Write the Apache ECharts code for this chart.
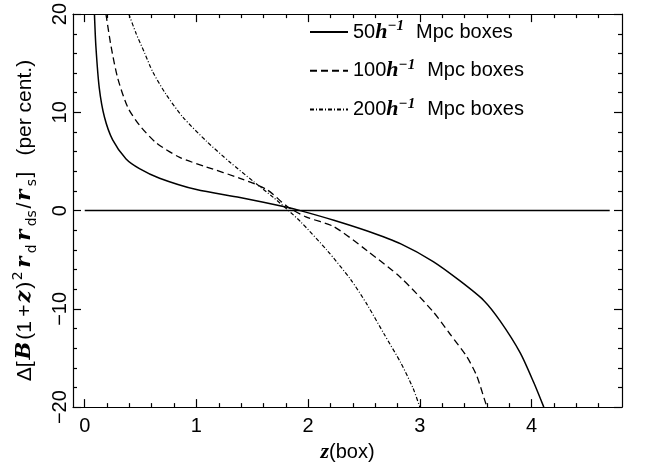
<!DOCTYPE html>
<html><head><meta charset="utf-8">
<script src="https://cdn.jsdelivr.net/npm/echarts@6/dist/echarts.min.js"></script>
<style>html,body{margin:0;padding:0;background:#fff}#c{width:648px;height:468px}</style>
</head><body><div id="c"></div>
<script>
// ---- data ----
const xMajorTicks = [0, 1, 2, 3, 4];
const xMinorTicks = [0.2, 0.4, 0.6, 0.8, 1.2, 1.4, 1.6, 1.8, 2.2, 2.4, 2.6, 2.8, 3.2, 3.4, 3.6, 3.8, 4.2, 4.4, 4.6];
const xRange = [-0.105, 4.81];
const yRange = [-20, 20];
const boxNames = ['50', '100', '200'];
const s50 = [[0.087,20],[0.10,16.7],[0.13,12.5],[0.177,9.5],[0.25,7.2],[0.37,5.26],[0.49,4.28],[0.67,3.3],[1.0,2.14],[1.39,1.33],[1.81,0.34],[1.93,0.0],[2.23,-0.98],[2.53,-2.08],[2.83,-3.39],[3.12,-5.19],[3.36,-7.16],[3.57,-9.12],[3.72,-11.25],[3.90,-14.5],[4.02,-17.5],[4.11,-20]];
const s100 = [[0.19,20],[0.236,16.7],[0.296,13.45],[0.386,10.5],[0.49,8.7],[0.64,6.9],[0.85,5.42],[1.09,4.44],[1.39,3.29],[1.63,2.14],[1.81,0.45],[1.98,-0.64],[2.23,-1.63],[2.53,-4.1],[2.83,-6.83],[3.12,-10.3],[3.27,-12.56],[3.42,-14.86],[3.51,-16.83],[3.59,-19.6],[3.61,-20]];
const s200 = [[0.395,20],[0.46,18.03],[0.535,16.07],[0.61,14.1],[0.73,11.8],[0.88,9.5],[1.09,7.06],[1.30,4.93],[1.51,2.97],[1.69,1.33],[1.81,0.15],[1.93,-1.1],[2.17,-4.05],[2.38,-7.0],[2.53,-9.6],[2.68,-12.56],[2.83,-15.5],[2.94,-18.1],[3.0,-20]];
const zeroLine = [[0,0],[4.7,0]];

// ---- chart ----
const SANS = 'Liberation Sans';
const SERIF = 'Liberation Serif';
const FS = 20;
const LH = 26;
const mathRich = {
  n: {fontFamily: SANS, fontSize: FS, color: '#000', lineHeight: LH},
  i: {fontFamily: SERIF, fontStyle: 'italic', fontWeight: 'bold', fontSize: FS + 2, color: '#000', lineHeight: LH},
  supi: {fontFamily: SERIF, fontStyle: 'italic', fontWeight: 'bold', fontSize: 15, color: '#000', lineHeight: LH, verticalAlign: 'top'},
  sp: {fontFamily: SANS, fontSize: FS, lineHeight: LH, width: 12}
};
const xNameRich = {
  n: {fontFamily: SANS, fontSize: FS, color: '#000', lineHeight: 20},
  i: {fontFamily: SERIF, fontStyle: 'italic', fontWeight: 'bold', fontSize: FS + 2, color: '#000', lineHeight: 20}
};
const yNameRich = {
  n: {fontFamily: SANS, fontSize: 21, color: '#000', lineHeight: 28},
  i: {fontFamily: 'DejaVu Serif', fontStyle: 'italic', fontWeight: 'bold', fontSize: 21, color: '#000', lineHeight: 28, padding: [0, 2]},
  sup: {fontFamily: 'DejaVu Sans', fontSize: 14, color: '#000', lineHeight: 28, verticalAlign: 'top', padding: [0, 1.5]},
  sub: {fontFamily: 'DejaVu Sans', fontSize: 14, color: '#000', lineHeight: 28, verticalAlign: 'bottom', padding: [0, 1.5]},
  sp: {fontFamily: SANS, fontSize: 21, lineHeight: 28, width: 16}
};
const axBase = {type: 'value', min: xRange[0], max: xRange[1], splitLine: {show: false}};
const lineBlack = {color: '#000', width: 1.2};

const chart = echarts.init(document.getElementById('c'), null, {renderer: 'canvas'});
chart.setOption({
  animation: false,
  backgroundColor: '#fff',
  grid: {left: 73, right: 26, top: 12, bottom: 49},
  legend: {
    data: boxNames,
    orient: 'vertical',
    left: 309, top: 19,
    padding: 0,
    itemWidth: 38, itemHeight: 14, itemGap: 14.7,
    itemStyle: {opacity: 0},
    formatter: n => `{n|${n}}{i|h}{supi|\u2212}{supi|1}{sp|}{n|Mpc boxes}`,
    textStyle: {rich: mathRich},
    selectedMode: false
  },
  xAxis: [
    Object.assign({}, axBase, {
      position: 'bottom',
      axisLine: {show: true, onZero: false, lineStyle: lineBlack},
      axisTick: {show: true, inside: true, length: 8, customValues: xMajorTicks, lineStyle: lineBlack},
      axisLabel: {show: true, customValues: xMajorTicks, fontFamily: SANS, fontSize: FS, color: '#000', margin: 9},
      name: '{i|z}{n|(box)}', nameLocation: 'middle', nameGap: 31,
      nameTextStyle: {rich: xNameRich}
    }),
    Object.assign({}, axBase, {
      position: 'bottom',
      axisLine: {show: false, onZero: false},
      axisTick: {show: true, inside: true, length: 4, customValues: xMinorTicks, lineStyle: lineBlack},
      axisLabel: {show: false}
    }),
    Object.assign({}, axBase, {
      position: 'top',
      axisLine: {show: true, onZero: false, lineStyle: lineBlack},
      axisTick: {show: true, inside: true, length: 8, customValues: xMajorTicks, lineStyle: lineBlack},
      axisLabel: {show: false}
    }),
    Object.assign({}, axBase, {
      position: 'top',
      axisLine: {show: false, onZero: false},
      axisTick: {show: true, inside: true, length: 4, customValues: xMinorTicks, lineStyle: lineBlack},
      axisLabel: {show: false}
    })
  ],
  yAxis: [
    {
      type: 'value', min: yRange[0], max: yRange[1], interval: 10, position: 'left',
      splitLine: {show: false},
      axisLine: {show: true, onZero: false, lineStyle: lineBlack},
      axisTick: {show: true, inside: true, length: 8, lineStyle: lineBlack},
      minorTick: {show: true, splitNumber: 5, length: 4, lineStyle: lineBlack},
      axisLabel: {show: true, rotate: 90, fontFamily: SANS, fontSize: FS, color: '#000', margin: 3,
        formatter: v => (v < 0 ? '\u2212' + (-v) : '' + v)},
      name: '{n|Δ[}{i|B}{n|(1\u2009+}{i|z}{n|)}{sup|2}{i|r}{sub|d}{i|r}{sub|ds}{n|/}{i|r}{sub|s}{n|]}{sp|}{n|(per cent.)}',
      nameLocation: 'middle', nameRotate: 90, nameGap: 34,
      nameTextStyle: {rich: yNameRich, padding: [0, 20, 0, 0]}
    },
    {
      type: 'value', min: yRange[0], max: yRange[1], interval: 10, position: 'right',
      splitLine: {show: false},
      axisLine: {show: true, onZero: false, lineStyle: lineBlack},
      axisTick: {show: true, inside: true, length: 8, lineStyle: lineBlack},
      minorTick: {show: true, splitNumber: 5, length: 4, lineStyle: lineBlack},
      axisLabel: {show: false}
    }
  ],
  series: [
    {name: boxNames[0], type: 'line', data: s50, symbol: 'none', smooth: 0.25, clip: true,
      lineStyle: {color: '#000', width: 1.5, type: 'solid'}, itemStyle: {color: '#000'}},
    {name: boxNames[1], type: 'line', data: s100, symbol: 'none', smooth: 0.25, clip: true,
      lineStyle: {color: '#000', width: 1.3, type: [7, 4]}, itemStyle: {color: '#000'}},
    {name: boxNames[2], type: 'line', data: s200, symbol: 'none', smooth: 0.25, clip: true,
      lineStyle: {color: '#000', width: 1.2, type: [4, 2, 1, 2]}, itemStyle: {color: '#000'}},
    {name: 'zero', type: 'line', data: zeroLine, symbol: 'none', silent: true,
      lineStyle: {color: '#000', width: 1.5}}
  ]
});
</script>
</body></html>
